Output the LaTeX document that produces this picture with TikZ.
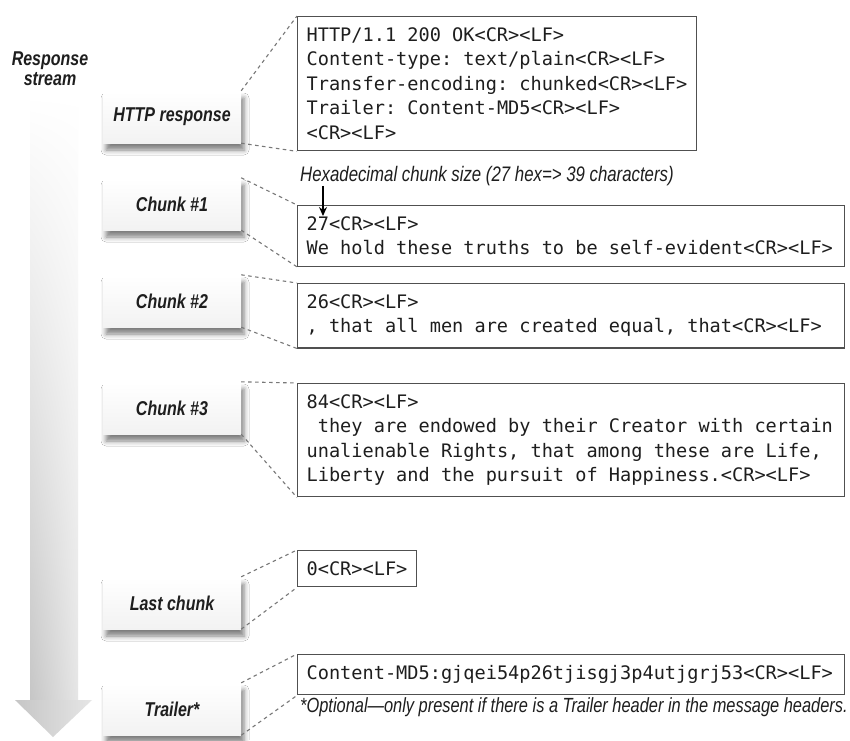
\documentclass[tikz,border=0pt]{standalone}
\usepackage{fontspec}
\setmonofont{DejaVu Sans Mono}
\newfontfamily\lblfont[FakeStretch=0.8]{Liberation Sans}
\usetikzlibrary{positioning,arrows.meta,shadows.blur,shadings}
\definecolor{cInk}{RGB}{30,30,30}
\definecolor{cFrame}{RGB}{80,80,80}
\definecolor{cDash}{RGB}{120,120,120}
% one fixed-pitch blank (18.6pt DejaVu Sans Mono cell)
\newcommand\monosp{\hspace*{11.197pt}}
\tikzset{
  lbl/.style={
    rectangle, top color=white, bottom color=gray!10, minimum width=138, minimum height=52,
    blur shadow={shadow xshift=3pt, shadow yshift=-7pt, shadow blur radius=5pt, shadow opacity=50},
    font=\lblfont\bfseries\itshape\fontsize{20}{20}\selectfont, text=cInk,
  },
  msg/.style={
    rectangle, draw=cFrame, line width=1.3pt, fill=white, anchor=north west,
    align=left, inner xsep=9, inner ysep=11, text=cInk,
    font=\ttfamily\fontsize{18.6}{24.5}\selectfont,
  },
  msgW/.style={msg, text width=529},
  note/.style={font=\lblfont\itshape\fontsize{20.5}{20.5}\selectfont, text=cInk, anchor=west, inner sep=0},
  conn/.style={draw=cDash, line width=1.1pt, dash pattern=on 3.5pt off 3.5pt},
  arr/.style={-{Stealth[length=9pt, width=8pt]}, line width=1.4pt, draw=black},
}

\begin{document}
\begin{tikzpicture}[x=1pt, y=-1pt]

% ===== canvas =====
\fill[white] (0,0) rectangle (850,740);
\useasboundingbox (0,0) rectangle (850,740);

% ===== grid coordinates =====
\def\lblX{172}   % label column centre x
\def\boxX{297}   % message column left x

% ===== response stream arrow =====
\shade[upper left=white, upper right=white, lower left=gray!45, lower right=gray!20]
  (30,95) rectangle (78,703);
\shade[left color=gray!45, right color=gray!20]
  (15,700) -- (92,700) -- (53,737) -- cycle;
\node[font=\lblfont\bfseries\itshape\fontsize{20}{20}\selectfont, text=cInk, align=center]
  (streamlbl) at (50,69) {Response\\stream};

% ===== left column: part labels =====
\node[lbl] (lhttp)  at (\lblX,117) {HTTP response};
\node[lbl] (lc1)    at (\lblX,204) {Chunk \#1};
\node[lbl] (lc2)    at (\lblX,301) {Chunk \#2};
\node[lbl] (lc3)    at (\lblX,408) {Chunk \#3};
\node[lbl] (llast)  at (\lblX,603) {Last chunk};
\node[lbl] (ltrail) at (\lblX,709) {Trailer*};

% ===== right column: message bytes =====
\node[msg] (bhttp) at (\boxX,16)
  {HTTP/1.1\monosp 200\monosp OK<CR><LF>\\
   Content-type:\monosp text/plain<CR><LF>\\
   Transfer-encoding:\monosp chunked<CR><LF>\\
   Trailer:\monosp Content-MD5<CR><LF>\\
   <CR><LF>};
\node[msgW] (bc1) at (\boxX,205)
  {27<CR><LF>\\
   We\monosp hold\monosp these\monosp truths\monosp to\monosp be\monosp self-evident<CR><LF>};
\node[msgW] (bc2) at (\boxX,283)
  {26<CR><LF>\\
   ,\monosp that\monosp all\monosp men\monosp are\monosp created\monosp equal,\monosp that<CR><LF>};
\node[msgW] (bc3) at (\boxX,383)
  {84<CR><LF>\\
   \monosp they\monosp are\monosp endowed\monosp by\monosp their\monosp Creator\monosp with\monosp certain\\
   unalienable\monosp Rights,\monosp that\monosp among\monosp these\monosp are\monosp Life,\\
   Liberty\monosp and\monosp the\monosp pursuit\monosp of\monosp Happiness.<CR><LF>};
\node[msg] (blast) at (\boxX,550) {0<CR><LF>};
\node[msgW] (btrail) at (\boxX,654)
  {Content-MD5:gjqei54p26tjisgj3p4utjgrj53<CR><LF>};

% ===== notes =====
\node[note, font=\lblfont\itshape\fontsize{21}{21}\selectfont]
  (hexnote) at (300,176) {Hexadecimal chunk size (27 hex=> 39 characters)};
\node[note] (optnote) at (300,707)
  {*Optional—only present if there is a Trailer header in the message headers.};

% chunk size pointer
\coordinate (sizetip) at (323,216);
\draw[arr] (hexnote.south west -| sizetip) -- (sizetip);

% ===== dashed connectors: label -> bytes =====
\draw[conn] (lhttp.north east)  -- (bhttp.north west);
\draw[conn] (lhttp.south east)  -- (bhttp.south west);
\draw[conn] (lc1.north east)    -- (bc1.north west);
\draw[conn] (lc1.south east)    -- (bc1.south west);
\draw[conn] (lc2.north east)    -- (bc2.north west);
\draw[conn] (lc2.south east)    -- (bc2.south west);
\draw[conn] (lc3.north east)    -- (bc3.north west);
\draw[conn] (lc3.south east)    -- (bc3.south west);
\draw[conn] (llast.north east)  -- (blast.north west);
\draw[conn] (llast.south east)  -- (blast.south west);
\draw[conn] (ltrail.north east) -- (btrail.north west);
\draw[conn] (ltrail.south east) -- (btrail.south west);

\end{tikzpicture}
\end{document}
